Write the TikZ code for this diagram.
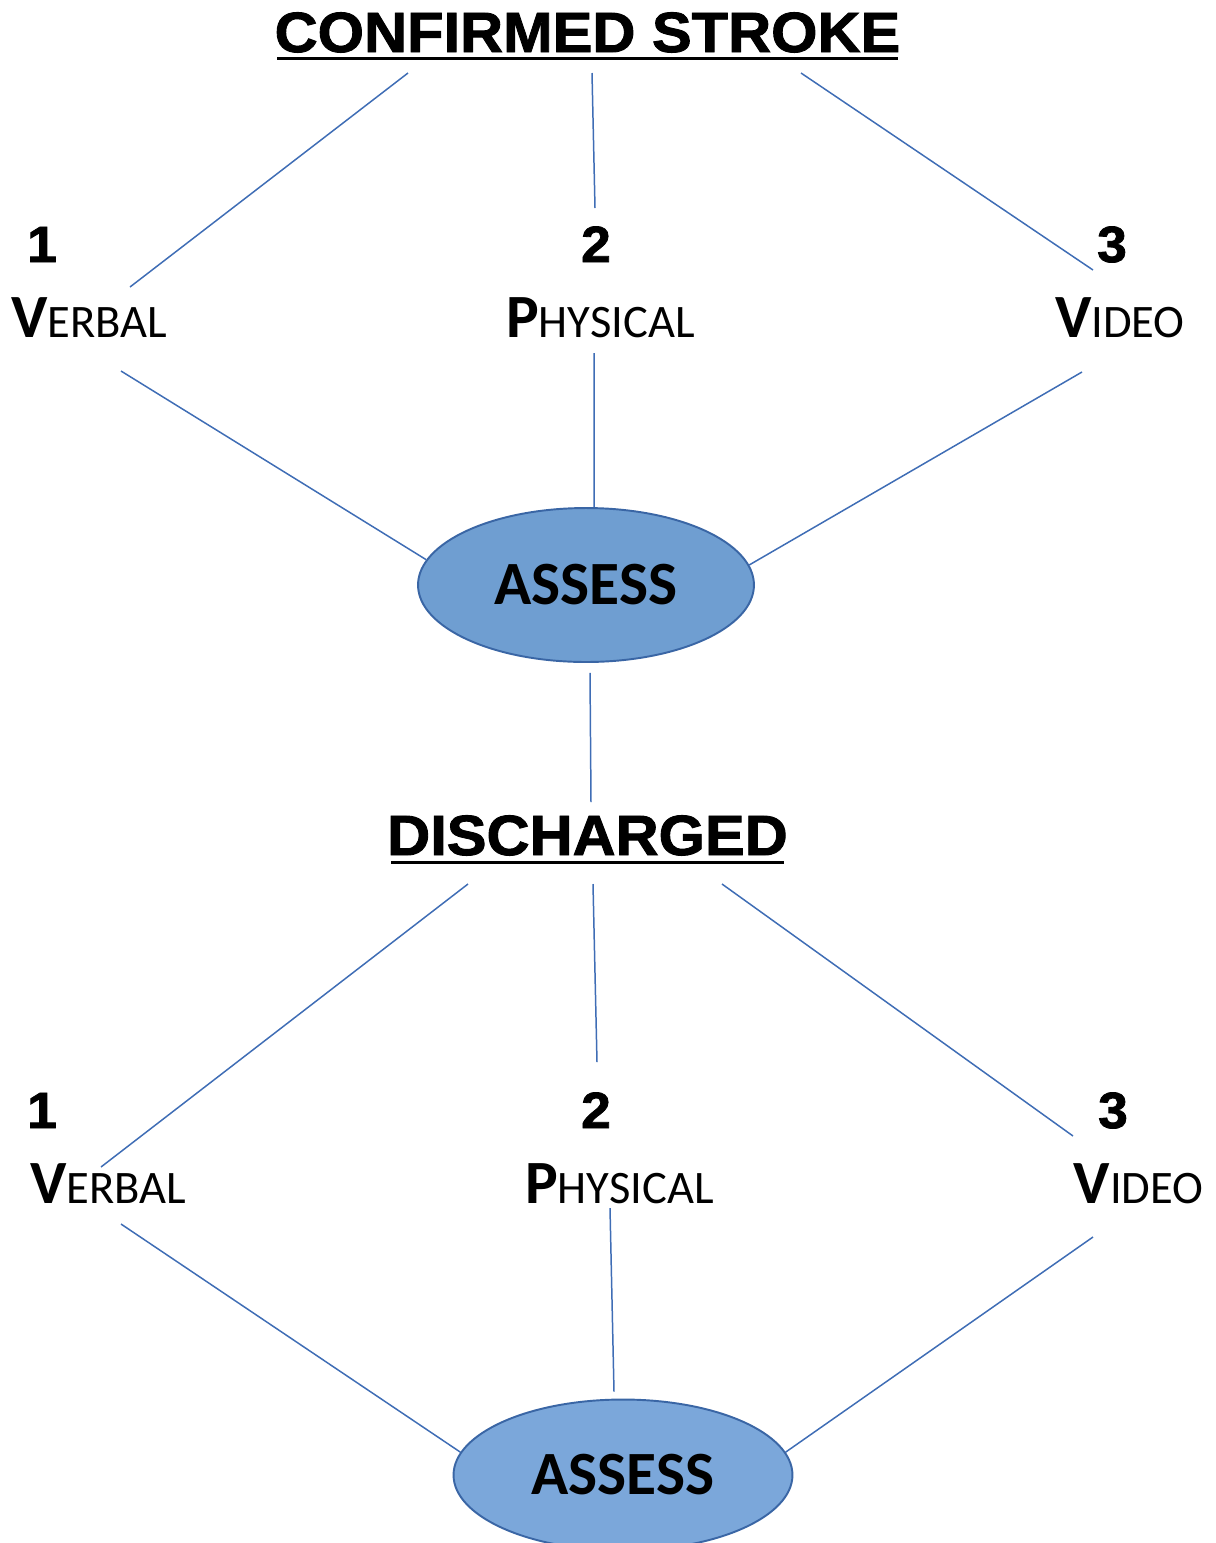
\documentclass[tikz,border=0pt]{standalone}
\usepackage{fontspec}
\setmainfont{Carlito}
\newfontfamily\negra{Liberation Sans}[FakeStretch=1.05,BoldFeatures={FakeBold=1.6}]
\usetikzlibrary{shapes.geometric,calc}
\definecolor{Linea}{HTML}{3F6DB5}
\definecolor{Borde}{HTML}{3A66A5}
\definecolor{Relleno}{HTML}{6F9ED1}
\definecolor{RellenoClaro}{HTML}{7BA7DA}
\newcommand{\versalita}[2]{{\fontsize{35}{40}\selectfont\bfseries #1}{\fontsize{26.5}{30}\selectfont #2}}

\begin{document}
\begin{tikzpicture}[x=0.02cm,y=-0.02cm,
        titulo/.style={inner sep=0pt,anchor=base,font=\negra\bfseries\fontsize{32.3}{36}\selectfont},
        numero/.style={inner sep=0pt,anchor=base,font=\negra\bfseries\fontsize{29}{32}\selectfont},
        modo/.style={inner sep=0pt,anchor=base},
        evaluar/.style={ellipse,draw=Borde,line width=1.1pt,fill=Relleno,minimum width=6.72cm,minimum height=3.08cm,font=\bfseries\fontsize{35}{40}\selectfont},
        linea/.style={draw=Linea,line width=0.85pt},
        subrayado/.style={line width=1.7pt}]
        \clip (0,0) rectangle (1216,1543);
        % primera parte
        \node[titulo] (t1) at (587.5,52) {CONFIRMED STROKE};
        \draw[subrayado] (277,58.5) -- (898,58.5);
        \node[numero] (n1) at (42,262) {1};
        \node[numero] (n2) at (596,262) {2};
        \node[numero] (n3) at (1112,262) {3};
        \node[modo] (m1) at (89.5,337) {\versalita{V}{ERBAL}};
        \node[modo] (m2) at (600.5,337) {\versalita{P}{HYSICAL}};
        \node[modo] (m3) at (1120,337) {\versalita{V}{IDEO}};
        \node[evaluar] (a1) at (586,585) {ASSESS};
        \draw[linea] ($(t1.base)+(-179.5,21)$) -- ($(m1.base)+(40.5,-50)$);
        \draw[linea] ($(t1.base)+(4.5,21)$) -- ($(n2.base)+(-1,-54)$);
        \draw[linea] ($(t1.base)+(213.5,21)$) -- ($(m3.base)+(-27,-67)$);
        \draw[linea] ($(m1.base)+(31.5,34)$) -- (a1.171);
        \draw[linea] ($(m2.base)+(-6.5,16)$) -- (a1.84);
        \draw[linea] ($(m3.base)+(-38,35)$) -- (a1.7);
        % segunda parte
        \node[titulo] (t2) at (587.5,855) {DISCHARGED};
        \draw[subrayado] (391,862) -- (784,862);
        \draw[linea] ($(a1.south)+(4,10)$) -- ($(t2.base)+(3.5,-53)$);
        \node[numero] (n4) at (42,1128) {1};
        \node[numero] (n5) at (596,1128) {2};
        \node[numero] (n6) at (1113,1128) {3};
        \node[modo] (m4) at (108,1203) {\versalita{V}{ERBAL}};
        \node[modo] (m5) at (619.5,1203) {\versalita{P}{HYSICAL}};
        \node[modo] (m6) at (1138.5,1203) {\versalita{V}{IDEO}};
        \node[evaluar,fill=RellenoClaro,minimum width=6.78cm,minimum height=3.02cm] (a2) at (623,1475) {ASSESS};
        \draw[linea] ($(t2.base)+(-119.5,29)$) -- ($(m4.base)+(-7,-36)$);
        \draw[linea] ($(t2.base)+(5.5,29)$) -- ($(n5.base)+(1,-66)$);
        \draw[linea] ($(t2.base)+(134.5,29)$) -- ($(m6.base)+(-65.5,-67)$);
        \draw[linea] ($(m4.base)+(13,21)$) -- (a2.172);
        \draw[linea] ($(m5.base)+(-9.5,5)$) -- ($(a2.north)+(-9,-7)$);
        \draw[linea] ($(m6.base)+(-45.5,34)$) -- (a2.8);
\end{tikzpicture}
\end{document}
